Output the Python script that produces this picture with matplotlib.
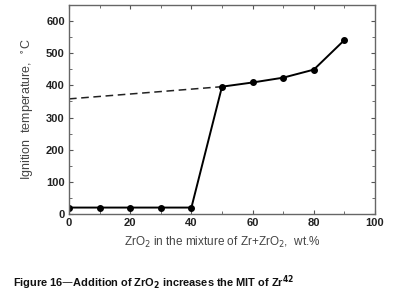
import matplotlib.pyplot as plt
from matplotlib.ticker import MultipleLocator

# ZrO2 content (wt.%) and minimum ignition temperature (C)
zro2 = [0, 10, 20, 30, 40, 50, 60, 70, 80, 90]
temp = [20, 20, 20, 20, 20, 396, 409, 424, 449, 541]
# dashed extrapolation
dash_x = [0, 50]
dash_y = [358, 396]

plt.rcParams['font.family'] = ['Liberation Sans', 'DejaVu Sans']

fig = plt.figure(figsize=(3.96, 3.06), dpi=100)
ax = fig.add_axes([69 / 396, 1 - 214 / 306, 306 / 396, 209 / 306])

ax.plot(dash_x, dash_y, color='#222222', lw=1.1, ls=(0, (5, 3)))
ax.plot(zro2, temp, color='black', lw=1.4, marker='o', ms=4)

ax.set_xlim(0, 100)
ax.set_ylim(0, 650)
ax.xaxis.set_major_locator(MultipleLocator(20))
ax.xaxis.set_minor_locator(MultipleLocator(10))
ax.yaxis.set_major_locator(MultipleLocator(100))
ax.yaxis.set_minor_locator(MultipleLocator(50))
ax.tick_params(which='both', direction='in', top=True, right=True,
               color='#555555', labelsize=8, pad=3)
ax.tick_params(which='major', length=3)
ax.tick_params(which='minor', length=2)
for lab in ax.get_xticklabels() + ax.get_yticklabels():
    lab.set_fontweight('bold')
    lab.set_color('#222222')
for s in ax.spines.values():
    s.set_color('#666666')
    s.set_linewidth(1.0)

ax.set_xlabel('ZrO$_2$ in the mixture of Zr+ZrO$_2$,  wt.%', fontsize=8.5,
              color='#444444', labelpad=5)
ax.set_ylabel('Ignition  temperature,  $^{\\circ}$C', fontsize=9,
              color='#444444', labelpad=7)

fig.text(13 / 396, 1 - 283 / 306,
         'Figure 16—Addition of ZrO$_\\mathbf{2}$ increases the MIT of Zr$^{\\mathbf{42}}$',
         fontsize=7.9, fontweight='bold', va='center', ha='left', color='#111111')

fig.savefig('out.png', dpi=100, facecolor='white')
